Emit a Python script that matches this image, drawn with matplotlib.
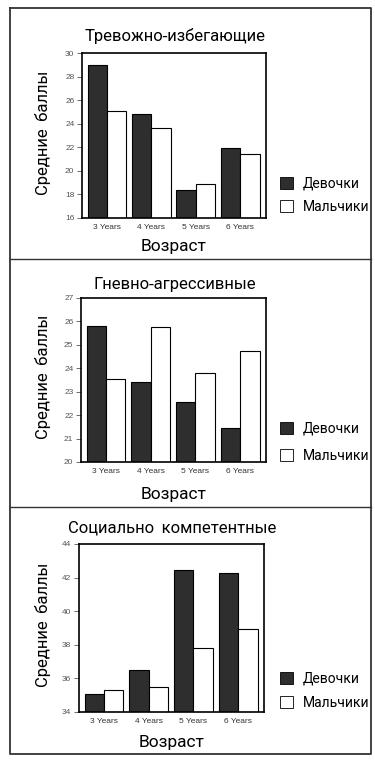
import numpy as np
import matplotlib
matplotlib.use('Agg')
import matplotlib.pyplot as plt
from matplotlib import font_manager
from matplotlib.patches import Patch
from matplotlib.lines import Line2D

# data
ages = ['3 Years', '4 Years', '5 Years', '6 Years']
titles = ['Тревожно-избегающие', 'Гневно-агрессивные', 'Социально  компетентные']

girls_anx = [29.0, 24.8, 18.35, 21.95]
boys_anx = [25.1, 23.65, 18.9, 21.4]
girls_ang = [25.8, 23.42, 22.58, 21.45]
boys_ang = [23.56, 25.77, 23.81, 24.75]
girls_soc = [35.1, 36.48, 42.47, 42.27]
boys_soc = [35.32, 35.48, 37.8, 38.95]

ylims = [(16, 30), (20, 27), (34, 44)]
ysteps = [2, 1, 2]

W, H = 375, 764

# the scan uses a condensed face, take a narrow one if there is any
have = sorted({f.name for f in font_manager.fontManager.ttflist})
cond = [n for n in have if 'Narrow' in n or 'Condensed' in n]
narrow = cond[:1] + ['Roboto', 'DejaVu Sans']
plain = ['Liberation Sans', 'DejaVu Sans']

fig = plt.figure(figsize=(W / 100, H / 100), dpi=100)
fig.patch.set_facecolor('white')

def fx(px):
    return px / W

def fy(py):
    return 1 - py / H

# pixel boxes of each panel: axes left, right, top, bottom
boxes = [(82, 266, 53, 218), (81, 266, 298, 462), (79, 264, 544, 712)]
title_y = [36, 284, 528]
xlab_y = [247, 494, 743]
leg_y = [177, 422, 672]
leg_gap = [0.65, 0.95, 0.75]

series = [(girls_anx, boys_anx), (girls_ang, boys_ang), (girls_soc, boys_soc)]

x = np.arange(len(ages))
w = 0.435
dark = '#2e2e2e'

for i in range(3):
    l, r, t, b = boxes[i]
    ax = fig.add_axes([fx(l), fy(b), fx(r) - fx(l), (b - t) / H])
    g, m = series[i]
    ax.bar(x - w / 2, g, w, bottom=0, color=dark, edgecolor='black', linewidth=0.8)
    ax.bar(x + w / 2, m, w, bottom=0, color='white', edgecolor='black', linewidth=0.8)
    ax.set_xlim(-0.56, 3.58)
    ax.set_ylim(*ylims[i])
    ax.set_yticks(np.arange(ylims[i][0], ylims[i][1] + 0.01, ysteps[i]))
    ax.set_xticks(x)
    ax.set_xticklabels(ages, fontsize=6, family=plain, color='#333333')
    for lab in ax.get_yticklabels():
        lab.set_fontsize(6)
        lab.set_family(plain)
        lab.set_color('#555555')
    ax.tick_params(axis='x', length=0, pad=4)
    ax.tick_params(axis='y', length=3.5, width=0.6, color='#555555', pad=2)
    for s in ax.spines.values():
        s.set_linewidth(1.2)
        s.set_color('black')

    cx = (l + r) / 2
    fig.text(fx(cx + 1), fy(title_y[i]), titles[i], ha='center', va='center',
             fontsize=12, family=narrow)
    fig.text(fx(cx), fy(xlab_y[i]), 'Возраст', ha='center', va='center',
             fontsize=12.5, family=narrow)
    fig.text(fx(43), fy((t + b) / 2 - 3), 'Средние  баллы', ha='center', va='center',
             rotation=90, fontsize=12, family=narrow)

    handles = [Patch(facecolor=dark, edgecolor='black', linewidth=0.6),
               Patch(facecolor='white', edgecolor='black', linewidth=0.6)]
    fig.legend(handles, ['Девочки', 'Мальчики'], loc='upper left',
               bbox_to_anchor=(fx(267), fy(leg_y[i] - 13)), frameon=False,
               prop={'family': narrow, 'size': 10}, handlelength=0.95,
               handleheight=0.95, labelspacing=leg_gap[i], handletextpad=0.75)

# outer frame and the two separators
lc = '#333333'
fig.add_artist(Line2D([fx(9.5), fx(371), fx(371), fx(9.5), fx(9.5)],
                      [fy(7.5), fy(7.5), fy(754), fy(754), fy(7.5)],
                      color=lc, linewidth=1.3))
for yy in [259, 507]:
    fig.add_artist(Line2D([fx(9.5), fx(371)], [fy(yy), fy(yy)], color=lc, linewidth=1.0))

fig.savefig('out.png', dpi=100)
